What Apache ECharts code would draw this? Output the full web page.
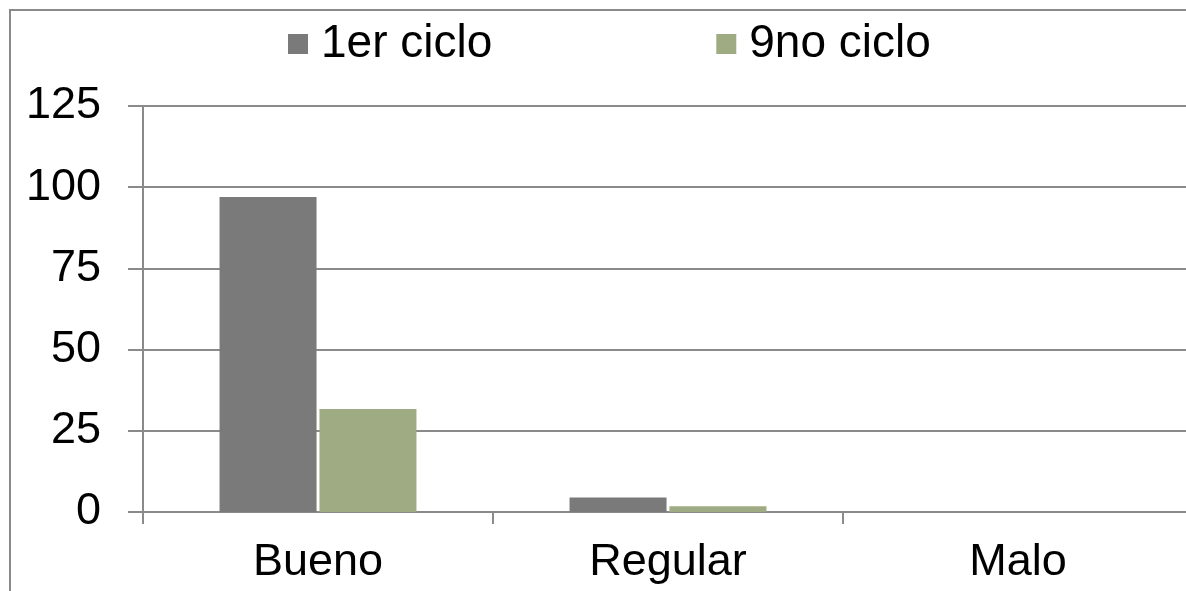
<!DOCTYPE html>
<html><head><meta charset="utf-8">
<script src="https://cdn.jsdelivr.net/npm/echarts@6/dist/echarts.min.js"></script>
<style>html,body{margin:0;padding:0;background:#fff}#c{width:1186px;height:591px}</style>
</head><body><div id="c"></div>
<script>
const categories = ['Bueno', 'Regular', 'Malo'];
const serie1Name = '1er ciclo';
const serie2Name = '9no ciclo';
const serie1 = [97, 4.5, 0];
const serie2 = [31.7, 1.8, 0];
const yTicks = [0, 25, 50, 75, 100, 125];

const chart = echarts.init(document.getElementById('c'), null, {renderer: 'canvas'});
const font = '"Liberation Sans", Arial, sans-serif';
chart.setOption({
  animation: false,
  backgroundColor: '#fff',
  graphic: [{
    type: 'rect', z: 0, silent: true,
    shape: {x: 10, y: 10, width: 1300, height: 700},
    style: {fill: 'none', stroke: '#8a8a8a', lineWidth: 2}
  }],
  legend: {
    top: 21, left: 288, padding: 0,
    itemWidth: 20, itemHeight: 20, itemGap: 224,
    icon: 'rect',
    textStyle: {fontFamily: font, fontSize: 46, color: '#000', padding: [0,0,0,8]},
    data: [serie1Name, serie2Name]
  },
  grid: {left: 143, top: 106, width: 1050, height: 406, containLabel: false, outerBoundsMode: 'none'},
  xAxis: {
    type: 'category', data: categories,
    axisLine: {lineStyle: {color: '#8a8a8a', width: 2}},
    axisTick: {show: true, length: 12, alignWithLabel: false, lineStyle: {color: '#8a8a8a', width: 2}},
    axisLabel: {fontFamily: font, fontSize: 45, color: '#000', margin: 28}
  },
  yAxis: {
    type: 'value', min: yTicks[0], max: yTicks[yTicks.length-1], interval: 25,
    axisLine: {show: true, lineStyle: {color: '#8a8a8a', width: 2}},
    axisTick: {show: true, length: 15, lineStyle: {color: '#8a8a8a', width: 2}},
    splitLine: {show: true, lineStyle: {color: '#8a8a8a', width: 2}},
    axisLabel: {fontFamily: font, fontSize: 45, color: '#000', margin: 42}
  },
  series: [
    {name: serie1Name, type: 'bar', data: serie1, barWidth: 97, barGap: '3%',
     itemStyle: {color: '#7a7a7a'}},
    {name: serie2Name, type: 'bar', data: serie2, barWidth: 97,
     itemStyle: {color: '#9fab82'}}
  ]
});
</script></body></html>
